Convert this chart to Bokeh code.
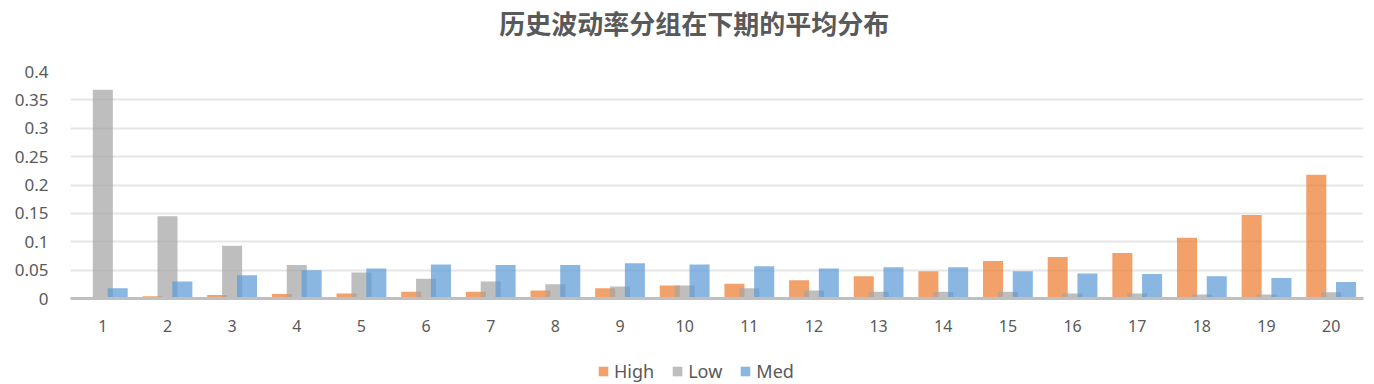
from bokeh.plotting import figure
from bokeh.layouts import column
from bokeh.models import ColumnDataSource, FixedTicker, CustomJSTickFormatter, Legend, LegendItem, Range1d
from bokeh.core.properties import value
from bokeh.transform import dodge
from bokeh.embed import file_html
from bokeh.resources import INLINE

groups = list(range(1, 21))
high = [0.002, 0.004, 0.006, 0.008, 0.009, 0.012, 0.012, 0.014, 0.018, 0.023,
        0.026, 0.032, 0.039, 0.048, 0.066, 0.073, 0.080, 0.107, 0.147, 0.218]
low = [0.368, 0.145, 0.093, 0.059, 0.046, 0.035, 0.030, 0.025, 0.021, 0.023,
       0.018, 0.014, 0.012, 0.012, 0.012, 0.009, 0.009, 0.007, 0.007, 0.011]
med = [0.018, 0.030, 0.041, 0.050, 0.053, 0.060, 0.059, 0.059, 0.062, 0.060,
       0.057, 0.053, 0.055, 0.055, 0.048, 0.044, 0.043, 0.039, 0.036, 0.029]
series_names = ["High", "Low", "Med"]
series_colors = ["#ED7D31", "#A5A5A5", "#5B9BD5"]
y_ticks = [0, 0.05, 0.1, 0.15, 0.2, 0.25, 0.3, 0.35, 0.4]
title_text = "历史波动率分组在下期的平均分布"

src = ColumnDataSource(dict(x=groups, High=high, Low=low, Med=med))

FONT = "Noto Sans"
TXT = "#595959"
W = 1366

# title strip
p0 = figure(width=W, height=50, output_backend="svg", toolbar_location=None,
            x_range=Range1d(0, 1), y_range=Range1d(0, 1), x_axis_type=None, y_axis_type=None,
            min_border_left=0, min_border_right=0, min_border_top=0, min_border_bottom=0)
p0.grid.visible = False
p0.outline_line_color = None
p0.text(x=[0.4824], y=[0.56], text=[title_text], text_align="center", text_baseline="middle",
        text_font=value("Noto Sans CJK SC"), text_font_size="26px", text_font_style="bold",
        text_color=TXT)

p = figure(width=W, height=288, output_backend="svg", toolbar_location=None,
           x_range=Range1d(0.5, 20.5), y_range=Range1d(0, 0.4),
           min_border_left=70, min_border_right=3, min_border_top=21, min_border_bottom=40)
p.outline_line_color = None

bw = 0.31
offsets = [-0.23, 0.0, 0.23]
for name, color, off in zip(series_names, series_colors, offsets):
    p.vbar(x=dodge("x", off, range=p.x_range), top=name, width=bw, source=src,
           fill_color=color, fill_alpha=0.72, line_color=None)

p.xgrid.grid_line_color = None
p.ygrid.grid_line_color = "#E6E6E6"
p.ygrid.grid_line_width = 2
p.ygrid.ticker = FixedTicker(ticks=y_ticks)

p.yaxis.ticker = FixedTicker(ticks=y_ticks)
p.yaxis.formatter = CustomJSTickFormatter(code="return String(Math.round(tick*100)/100);")
p.yaxis.axis_line_color = None
p.yaxis.major_tick_line_color = None
p.yaxis.minor_tick_line_color = None
p.yaxis.major_label_text_font = FONT
p.yaxis.major_label_text_font_size = "17px"
p.yaxis.major_label_text_color = TXT
p.yaxis.major_label_standoff = 16

p.xaxis.ticker = FixedTicker(ticks=groups)
p.xaxis.axis_line_color = "#BFBFBF"
p.xaxis.axis_line_width = 3
p.xaxis.major_tick_line_color = None
p.xaxis.minor_tick_line_color = None
p.xaxis.major_label_text_font = FONT
p.xaxis.major_label_text_font_size = "16px"
p.xaxis.major_label_text_color = TXT
p.xaxis.major_label_standoff = 15

# legend strip
p2 = figure(width=W, height=46, output_backend="svg", toolbar_location=None,
            x_range=Range1d(0, 1), y_range=Range1d(0, 1), x_axis_type=None, y_axis_type=None,
            min_border_left=0, min_border_right=0, min_border_top=0, min_border_bottom=0)
p2.grid.visible = False
p2.outline_line_color = None
items = []
for name, color in zip(series_names, series_colors):
    r = p2.vbar(x=[0.5], top=[0], bottom=[0], width=0.0, fill_color=color, fill_alpha=0.72,
                line_color=None)
    items.append(LegendItem(label=name, renderers=[r]))
legend = Legend(items=items, orientation="horizontal", location=(527, 1),
                label_text_font=FONT, label_text_font_size="18px", label_text_color=TXT,
                glyph_width=12, glyph_height=12, spacing=17, label_standoff=5,
                border_line_color=None, background_fill_alpha=0, padding=4, margin=0)
p2.add_layout(legend, "center")

open("out.html", "w").write(file_html(column(p0, p, p2, spacing=0), INLINE))
